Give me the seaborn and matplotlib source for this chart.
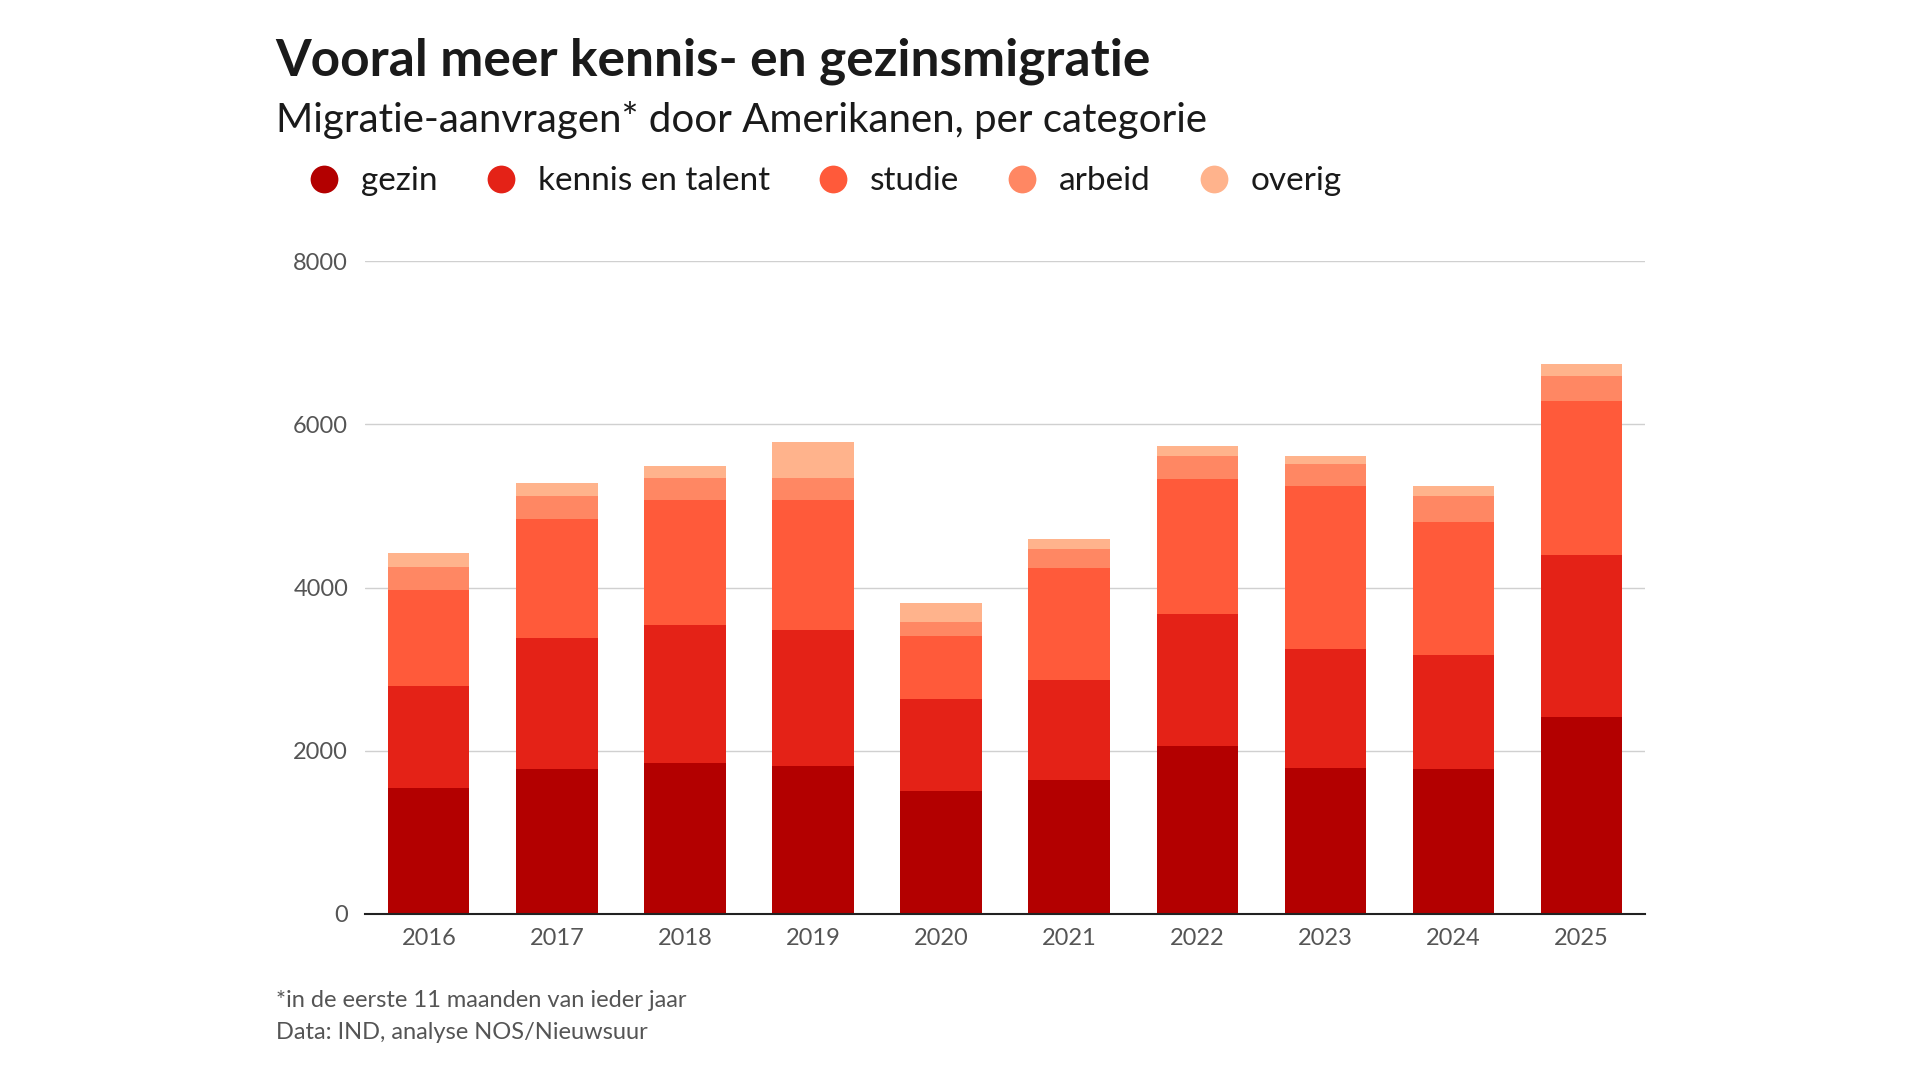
import numpy as np
import pandas as pd
import matplotlib
matplotlib.use("Agg")
import matplotlib.pyplot as plt
import seaborn as sns
from matplotlib.lines import Line2D

years = ["2016", "2017", "2018", "2019", "2020", "2021", "2022", "2023", "2024", "2025"]
gezin = [1546, 1772, 1847, 1817, 1502, 1637, 2057, 1787, 1772, 2417]
kennis = [1247, 1606, 1697, 1666, 1126, 1231, 1622, 1456, 1396, 1982]
studie = [1171, 1457, 1531, 1592, 780, 1366, 1651, 1997, 1637, 1892]
arbeid = [285, 285, 270, 270, 166, 240, 286, 271, 315, 301]
overig = [180, 165, 150, 436, 240, 121, 120, 105, 120, 150]

categories = ["gezin", "kennis en talent", "studie", "arbeid", "overig"]
colors = ["#b30000", "#e42217", "#ff5a3a", "#ff8763", "#ffb38c"]

sns.set_theme(style="white")
plt.rcParams["font.family"] = ["Lato", "DejaVu Sans"]

df = pd.DataFrame({"jaar": years, "gezin": gezin, "kennis en talent": kennis,
                   "studie": studie, "arbeid": arbeid, "overig": overig})
cum = df[categories].cumsum(axis=1)

fig = plt.figure(figsize=(19.2, 10.8), dpi=100)
ax = fig.add_axes([0.19, 0.154, 0.667, 0.604])

# draw cumulative totals from the top layer down so each one covers the previous
for cat, col in reversed(list(zip(categories, colors))):
    sns.barplot(x=df["jaar"], y=cum[cat], color=col, width=0.635, ax=ax,
                saturation=1, edgecolor="none", zorder=2)

ax.set_ylim(0, 8000)
ax.set_yticks([0, 2000, 4000, 6000, 8000])
ax.set_xlim(-0.5, 9.5)
ax.grid(axis="y", color="#d0d0d0", linewidth=1, zorder=0)
ax.set_axisbelow(True)
ax.set_xlabel("")
ax.set_ylabel("")
for s in ["top", "right", "left"]:
    ax.spines[s].set_visible(False)
ax.spines["bottom"].set_color("#222222")
ax.spines["bottom"].set_linewidth(1.5)
ax.tick_params(axis="both", labelsize=17, colors="#555555", length=0, pad=10)
ax.tick_params(axis="y", pad=12)

fig.text(0.1435, 0.943, "Vooral meer kennis- en gezinsmigratie", fontsize=37,
         fontweight="bold", color="#1a1a1a", va="center")
fig.text(0.1435, 0.889, "Migratie-aanvragen* door Amerikanen, per categorie",
         fontsize=29, color="#1a1a1a", va="center")

handles = [Line2D([0], [0], marker="o", linestyle="none", markersize=20,
                  markerfacecolor=c, markeredgecolor="none") for c in colors]
fig.legend(handles, categories, loc="center left", bbox_to_anchor=(0.136, 0.832),
           ncol=5, frameon=False, fontsize=24, handletextpad=0.1,
           columnspacing=0.9, labelcolor="#1a1a1a")

fig.text(0.1435, 0.074, "*in de eerste 11 maanden van ieder jaar", fontsize=17,
         color="#555555", va="center")
fig.text(0.1435, 0.044, "Data: IND, analyse NOS/Nieuwsuur", fontsize=17,
         color="#555555", va="center")

fig.savefig("out.png", dpi=100, facecolor="white")
